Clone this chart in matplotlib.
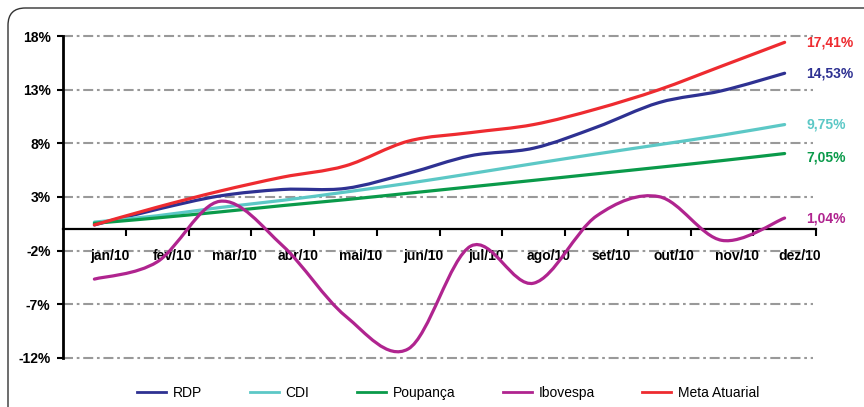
import matplotlib
matplotlib.use('Agg')
import matplotlib.pyplot as plt
import numpy as np
from matplotlib.path import Path
from matplotlib.patches import PathPatch, FancyBboxPatch
from matplotlib.lines import Line2D
from matplotlib.ticker import FixedLocator, FixedFormatter

plt.rcParams['font.family'] = ['Liberation Sans', 'DejaVu Sans']

months = ['jan/10', 'fev/10', 'mar/10', 'abr/10', 'mai/10', 'jun/10',
          'jul/10', 'ago/10', 'set/10', 'out/10', 'nov/10', 'dez/10']
rdp = [0.4, 1.85, 3.1, 3.7, 3.8, 5.2, 6.85, 7.55, 9.5, 11.8, 12.9, 14.53]
cdi = [0.66, 1.25, 2.02, 2.69, 3.46, 4.28, 5.18, 6.11, 7.01, 7.88, 8.76, 9.75]
poupanca = [0.55, 1.05, 1.61, 2.2, 2.75, 3.35, 3.95, 4.55, 5.16, 5.77, 6.39, 7.05]
ibovespa = [-4.65, -3.05, 2.60, -1.54, -8.08, -11.16, -1.57, -5.03, 1.22, 3.03, -1.04, 1.04]
meta = [0.4, 2.05, 3.55, 4.85, 5.9, 8.2, 9.0, 9.75, 11.2, 13.0, 15.2, 17.41]
final_labels = ['14,53%', '9,75%', '7,05%', '1,04%', '17,41%']
names = ['RDP', 'CDI', 'Poupança', 'Ibovespa', 'Meta Atuarial']
colors = ['#2e3192', '#5cc8c6', '#0a9a4a', '#b0248f', '#ee2b30']
yticks = [18, 13, 8, 3, -2, -7, -12]


def smooth_path(xs, ys):
    # Excel-style smoothed line: Catmull-Rom tangents as cubic Bezier segments
    p = np.column_stack([xs, ys]).astype(float)
    n = len(p)
    verts = [p[0]]
    codes = [Path.MOVETO]
    for i in range(n - 1):
        p0 = p[i - 1] if i > 0 else p[i]
        p3 = p[i + 2] if i + 2 < n else p[i + 1]
        c1 = p[i] + (p[i + 1] - p0) / 6.0
        c2 = p[i + 1] - (p3 - p[i]) / 6.0
        verts += [c1, c2, p[i + 1]]
        codes += [Path.CURVE4] * 3
    return Path(verts, codes)


fig = plt.figure(figsize=(8.64, 4.07), dpi=100)
ax = fig.add_axes([63 / 864, 1 - 358 / 407, (816 - 63) / 864, (358 - 36) / 407])
ax.set_xlim(-0.5, 11.5)
ax.set_ylim(-12, 18)

# outer rounded frame
frame = FancyBboxPatch((8 / 864, -20 / 407), 900 / 864, 419 / 407,
                       boxstyle='round,pad=0,rounding_size=0.02',
                       transform=fig.transFigure, fill=False,
                       edgecolor='#333333', lw=1.0, mutation_aspect=864 / 407)
fig.patches.append(frame)

for v in yticks:
    ax.plot([-0.5, 11.45], [v, v], color='#999999', lw=1.5,
            linestyle=(0, (4.8, 1.8, 1.3, 1.8)), zorder=1, clip_on=False)

x = np.arange(len(months))
series = [rdp, cdi, poupanca, ibovespa, meta]
for vals, c in zip(series, colors):
    ax.add_patch(PathPatch(smooth_path(x, vals), fill=False, edgecolor=c,
                           lw=2.3, capstyle='round', zorder=3))

label_dy = [0, 0, -0.35, 0, 0]
for vals, lab, c, dy in zip(series, final_labels, colors, label_dy):
    ax.text(11.35, vals[-1] + dy, lab, color=c, fontsize=10, fontweight='bold',
            va='center', ha='left')

for s in ['top', 'right']:
    ax.spines[s].set_visible(False)
ax.spines['bottom'].set_position(('data', 0))
ax.spines['bottom'].set_linewidth(1.6)
ax.spines['left'].set_linewidth(2)

ax.set_yticks(yticks)
ax.set_yticklabels(['%d%%' % v for v in yticks], fontsize=10, fontweight='bold')
ax.tick_params(axis='y', direction='out', length=4, width=1.5, pad=5)

ax.xaxis.set_major_locator(FixedLocator(np.arange(0.5, 12, 1)))
ax.xaxis.set_major_formatter(FixedFormatter([''] * 12))
ax.xaxis.set_minor_locator(FixedLocator(x + 0.24))
ax.xaxis.set_minor_formatter(FixedFormatter(months))
ax.tick_params(axis='x', which='major', direction='out', length=5, width=1.5)
ax.tick_params(axis='x', which='minor', length=0, pad=14, labelsize=10)
for t in ax.xaxis.get_minorticklabels():
    t.set_fontweight('bold')

handles = [Line2D([], [], color=c, lw=2) for c in colors]
fig.legend(handles, names, loc='center left', bbox_to_anchor=(130 / 864, 14 / 407),
           ncol=5, frameon=False, fontsize=10, handlelength=2.1,
           handletextpad=0.5, columnspacing=3.4, borderpad=0)

fig.savefig('out.png', dpi=100)
